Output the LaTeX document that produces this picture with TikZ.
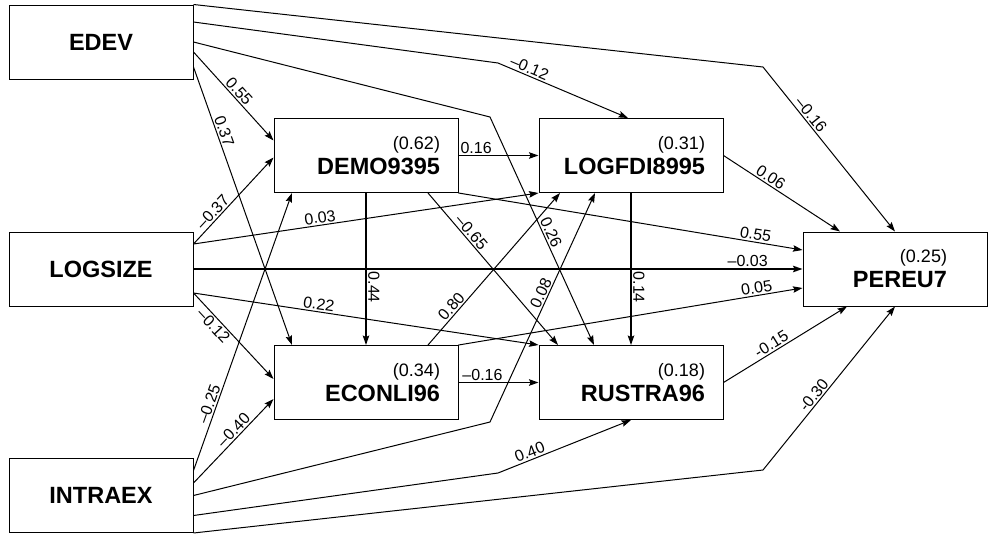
\documentclass[tikz,border=0pt]{standalone}
\usepackage{fontspec}
\setmainfont{Liberation Sans}
\usetikzlibrary{arrows.meta}

\begin{document}
\begin{tikzpicture}[x=1pt,y=-1pt,
  varbox/.style={draw,line width=1pt,minimum width=184pt,minimum height=74pt,inner sep=0pt},
  srcbox/.style={varbox,font=\fontsize{23.5}{25}\selectfont\bfseries},
  endbox/.style={varbox,align=right,text width=148pt,font=\fontsize{23.5}{25}\selectfont},
  arr/.style={-{Stealth[length=9.5pt,width=6.5pt,inset=1.5pt]},line width=1pt},
  straight/.style={arr,line width=1.5pt},
  coef/.style={font=\fontsize{16}{18}\selectfont,inner sep=1.5pt,sloped,above}]
  \useasboundingbox (0,0) rectangle (988,533);
  \foreach \n/\t/\y in {edev/EDEV/42,logsize/LOGSIZE/269,intraex/INTRAEX/495.5}
    \node[srcbox] (\n) at (101,\y) {\t};
  \foreach \n/\t/\r/\x/\y in {demo/DEMO9395/0.62/366/155.5,logfdi/LOGFDI8995/0.31/631/155.5,
      econli/ECONLI96/0.34/366/382.5,rustra/RUSTRA96/0.18/631/382.5}
    \node[endbox] (\n) at (\x,\y) {{\fontsize{18}{25}\selectfont(\r)}\\\textbf{\t}};
  \node[endbox,text width=104pt] (pereu) at (895,269) {{\fontsize{18}{25}\selectfont(0.25)}\\\textbf{PEREU7}};
  \coordinate (k1) at (763,67);
  \coordinate (k2) at (498,63);
  \coordinate (k3) at (490,117);
  \coordinate (k4) at (490,422);
  \coordinate (k5) at (498,473);
  \coordinate (k6) at (763,470);

  \draw[arr] (edev.north east) -- (k1) -- node[coef,pos=0.32]{\textendash0.16} (pereu.north);
  \draw[arr] ([yshift=20pt]edev.east) -- (k2) -- node[coef,pos=0.22]{\textendash0.12} ([xshift=-3pt]logfdi.north);
  \draw[arr] (edev.east) -- (k3) -- node[coef,pos=0.52]{0.26} ([xshift=-37pt]rustra.north);
  \draw[arr] ([yshift=-10pt]edev.east) -- node[coef,pos=0.5]{0.55} ([yshift=15pt]demo.west);
  \draw[arr] ([yshift=-25pt]edev.east) -- node[coef,pos=0.24]{0.37} ([xshift=-74pt]econli.north);

  \draw[arr] ([yshift=25pt]logsize.east) -- node[coef,pos=0.31]{\textendash0.37} ([yshift=-2pt]demo.west);
  \draw[arr] ([yshift=25pt]logsize.east) -- node[coef,pos=0.37]{0.03} (logfdi.south west);
  \draw[straight] (logsize.east) -- node[coef,pos=0.91]{\textendash0.03} (pereu.west);
  \draw[arr] ([yshift=-24pt]logsize.east) -- node[coef,pos=0.36]{0.22} (rustra.north west);
  \draw[arr] ([yshift=-24pt]logsize.east) -- node[coef,pos=0.32,below]{\textendash0.12} ([yshift=3.5pt]econli.west);

  \draw[arr] ([yshift=25pt]intraex.east) -- node[coef,pos=0.23]{\textendash0.25} ([xshift=-74pt]demo.south);
  \draw[arr] ([yshift=12.5pt]intraex.east) -- node[coef,pos=0.57]{\textendash0.40} ([yshift=-16.5pt]econli.west);
  \draw[arr] (intraex.east) -- (k4) -- node[coef,pos=0.55]{0.08} ([xshift=-36pt]logfdi.south);
  \draw[arr] ([yshift=-20pt]intraex.east) -- (k5) -- node[coef,pos=0.26]{0.40} (rustra.south);
  \draw[arr] (intraex.south east) -- (k6) -- node[coef,pos=0.43]{-0.30} (pereu.south);

  \draw[straight] (demo.east) -- node[coef,pos=0.22]{0.16} (logfdi.west);
  \draw[straight] (demo.south) -- node[coef,pos=0.62]{0.44} (econli.north);
  \draw[arr] ([xshift=62pt]demo.south) -- node[coef,pos=0.29]{\textendash0.65} ([xshift=-73pt]rustra.north);
  \draw[arr] (demo.south east) -- node[coef,pos=0.86]{0.55} ([yshift=19pt]pereu.west);

  \draw[straight] (logfdi.south) -- node[coef,pos=0.62]{0.14} (rustra.north);
  \draw[arr] (logfdi.east) -- node[coef,pos=0.37]{0.06} ([xshift=-55pt]pereu.north);

  \draw[arr] ([xshift=62pt]econli.north) -- node[coef,pos=0.22]{0.80} ([xshift=-71pt]logfdi.south);
  \draw[straight] (econli.east) -- node[coef,pos=0.3]{\textendash0.16} (rustra.west);
  \draw[arr] (econli.north east) -- node[coef,pos=0.87]{0.05} ([yshift=-19pt]pereu.west);

  \draw[arr] (rustra.east) -- node[coef,pos=0.42]{-0.15} ([xshift=-48pt]pereu.south);
\end{tikzpicture}
\end{document}
